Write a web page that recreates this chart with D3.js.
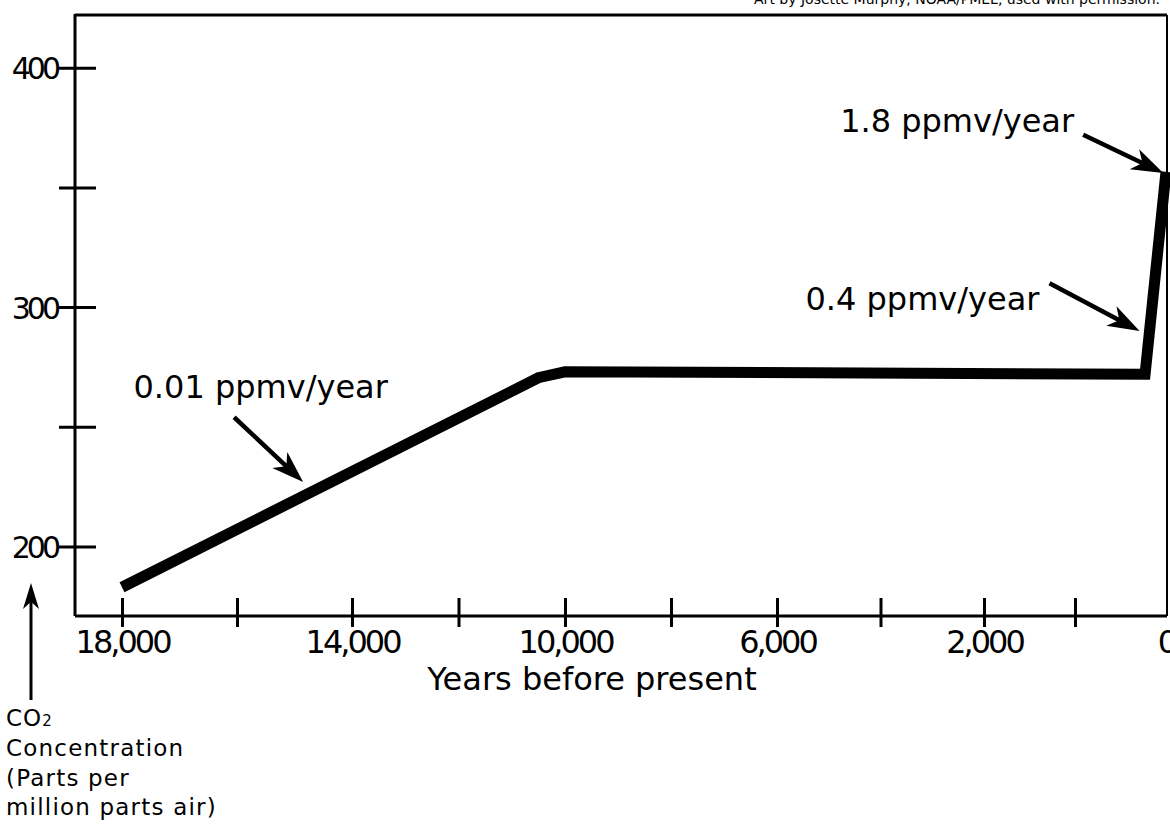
<!DOCTYPE html>
<html>
<head>
<meta charset="utf-8">
<script src="https://cdn.jsdelivr.net/npm/d3@7"></script>
<style>
	body { margin: 0; background: #fff; }
	svg text { font-family: "DejaVu Sans", sans-serif; fill: #000; }
</style>
</head>
<body>
<div id="chart-area"></div>
<script>
// DATA
var years = [18000, 10500, 10000, 230, 0];
var co2 = [183, 270.5, 273, 272, 356.5];

var xTickValues = [18000, 16000, 14000, 12000, 10000, 8000, 6000, 4000, 2000, 1000];
var xTickLabels = [18000, 14000, 10000, 6000, 2000, 0];
var yTickValues = [200, 250, 300, 350, 400];
var yTickLabels = [200, 300, 400];

// rate annotations (year, ppmv)
var rateLabels = ["0.01 ppmv/year", "0.4 ppmv/year", "1.8 ppmv/year"];
var rateTextAt = [[17800, 262], [5450, 299], [4780, 373]];
var rateArrowFrom = [[16050, 254], [1280, 310], [910, 372]];
var rateArrowTo = [[14850, 227], [290, 290], [30, 356]];

var xTitle = "Years before present";
var yTitleLines = ["Concentration", "(Parts per", "million parts air)"];
var credit = "Art by Josette Murphy, NOAA/PMEL, used with permission.";

var W = 1170, H = 825;
var margin = { left: 75, top: 15, right: 1167, bottom: 616 };

var svg = d3.select("#chart-area")
	.append("svg")
	.attr("width", W)
	.attr("height", H);

// SCALES (hand drawn axis: spacing of the labelled years is uneven)
var x = d3.scaleLinear()
	.domain(xTickLabels)
	.range([122, 352, 565, 777, 984, 1166]);

var y = d3.scaleLinear()
	.domain([171, 422])
	.range([margin.bottom, margin.top]);

// credit line, cut off at the top edge
svg.append("text")
	.attr("x", 1160)
	.attr("y", 4)
	.attr("text-anchor", "end")
	.attr("font-size", "14px")
	.text(credit);

// FRAME
svg.append("line").attr("x1", margin.left).attr("x2", margin.right)
	.attr("y1", margin.top).attr("y2", margin.top)
	.attr("stroke", "#000").attr("stroke-width", 3);
svg.append("line").attr("x1", margin.right).attr("x2", margin.right)
	.attr("y1", margin.top).attr("y2", margin.bottom)
	.attr("stroke", "#000").attr("stroke-width", 2);

// X AXIS
var xAxisCall = d3.axisBottom(x)
	.tickValues(xTickValues.concat([0]))
	.tickSize(0)
	.tickFormat(function (d) { return xTickLabels.indexOf(d) >= 0 ? d3.format(",")(d) : ""; });
var gx = svg.append("g")
	.attr("transform", "translate(0," + margin.bottom + ")")
	.call(xAxisCall)
	.attr("font-size", null)
	.attr("font-family", null);
gx.select(".domain").remove();
gx.selectAll(".tick line")
	.attr("y1", -18).attr("y2", 11)
	.attr("stroke", "#000").attr("stroke-width", 3)
	.filter(function (d) { return d === 0; }).remove();
gx.selectAll(".tick text")
	.attr("y", 37).attr("dy", null)
	.attr("font-size", "32px")
	.attr("letter-spacing", "-3px");
svg.append("line").attr("x1", margin.left).attr("x2", margin.right)
	.attr("y1", margin.bottom).attr("y2", margin.bottom)
	.attr("stroke", "#000").attr("stroke-width", 3);

// Y AXIS
var yAxisCall = d3.axisLeft(y)
	.tickValues(yTickValues)
	.tickSize(0)
	.tickFormat(function (d) { return yTickLabels.indexOf(d) >= 0 ? d : ""; });
var gy = svg.append("g")
	.attr("transform", "translate(" + margin.left + ",0)")
	.call(yAxisCall)
	.attr("font-size", null)
	.attr("font-family", null);
gy.select(".domain").remove();
gy.selectAll(".tick line")
	.attr("x1", -16).attr("x2", 21)
	.attr("stroke", "#000").attr("stroke-width", 3);
gy.selectAll(".tick text")
	.attr("x", -18).attr("dy", 11)
	.attr("font-size", "30px")
	.attr("letter-spacing", "-4px");
svg.append("line").attr("x1", margin.left).attr("x2", margin.left)
	.attr("y1", margin.top - 1).attr("y2", margin.bottom)
	.attr("stroke", "#000").attr("stroke-width", 3);

// CO2 LINE
var line = d3.line()
	.x(function (d) { return x(years[d]); })
	.y(function (d) { return y(co2[d]); });
svg.append("path")
	.attr("d", line(d3.range(years.length)))
	.attr("fill", "none")
	.attr("stroke", "#000")
	.attr("stroke-width", 11)
	.attr("stroke-linejoin", "miter");

// ARROWS
function arrow(x1, y1, x2, y2, len, half, width) {
	var a = Math.atan2(y2 - y1, x2 - x1);
	var ca = Math.cos(a), sa = Math.sin(a);
	function pt(u, v) { return [x2 + u * ca - v * sa, y2 + u * sa + v * ca]; }
	svg.append("line")
		.attr("x1", x1).attr("y1", y1)
		.attr("x2", pt(-len * 0.6, 0)[0]).attr("y2", pt(-len * 0.6, 0)[1])
		.attr("stroke", "#000").attr("stroke-width", width);
	svg.append("path")
		.attr("d", "M" + [pt(0, 0), pt(-len, -half), pt(-len * 0.72, 0), pt(-len, half)].join("L") + "Z")
		.attr("fill", "#000");
}

rateLabels.forEach(function (t, i) {
	svg.append("text")
		.attr("x", x(rateTextAt[i][0]))
		.attr("y", y(rateTextAt[i][1]))
		.attr("font-size", "32px")
		.text(t);
	arrow(x(rateArrowFrom[i][0]), y(rateArrowFrom[i][1]),
		x(rateArrowTo[i][0]), y(rateArrowTo[i][1]), 32, 11, 4.5);
});

// Y TITLE (below the chart, with an arrow pointing up)
arrow(31, 700, 31, 583, 26, 8, 3);
var yt = svg.append("text")
	.attr("x", 6)
	.attr("y", 726)
	.attr("font-size", "23px")
	.attr("letter-spacing", "1px");
yt.append("tspan").text("CO");
yt.append("tspan").attr("font-size", "15px").text("2");
yTitleLines.forEach(function (t, i) {
	svg.append("text")
		.attr("x", 6)
		.attr("y", 756 + i * 29.5)
		.attr("font-size", "23px")
		.attr("letter-spacing", "1.2px")
		.text(t);
});

// X TITLE
svg.append("text")
	.attr("x", 592)
	.attr("y", 690)
	.attr("text-anchor", "middle")
	.attr("font-size", "32px")
	.text(xTitle);
</script>
</body>
</html>
